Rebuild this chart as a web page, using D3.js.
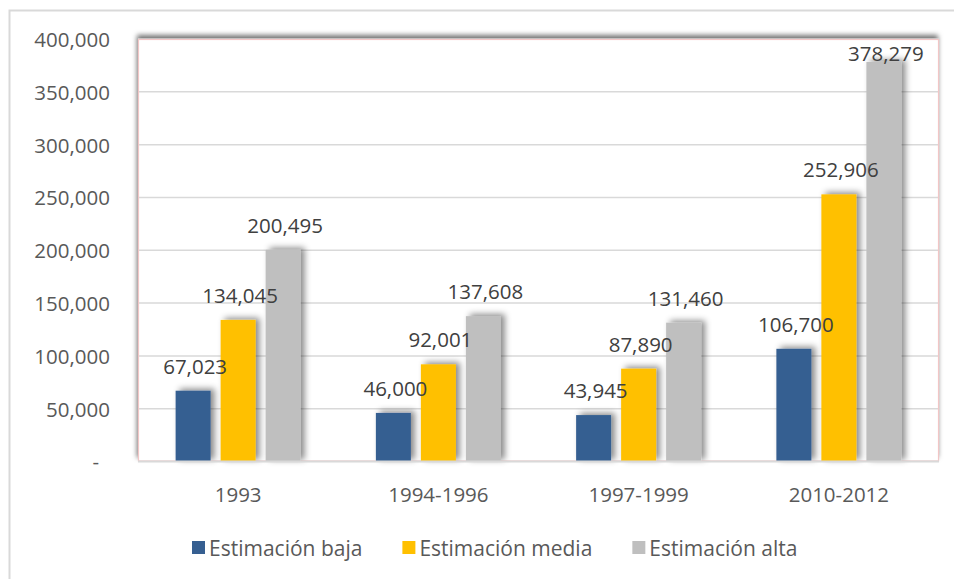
<!DOCTYPE html>
<html>
<head>
<meta charset="utf-8">
<script src="https://cdn.jsdelivr.net/npm/d3@7"></script>
<style>
  html, body { margin: 0; padding: 0; background: #fff; }
  svg { display: block; font-family: "Open Sans", sans-serif; }
</style>
</head>
<body>
<svg id="chart" width="954" height="579"></svg>
<script>
const categories = ["1993", "1994-1996", "1997-1999", "2010-2012"];
const seriesNames = ["Estimación baja", "Estimación media", "Estimación alta"];
const seriesColors = ["#365f91", "#ffc000", "#bfbfbf"];
const estimacionBaja = [67023, 46000, 43945, 106700];
const estimacionMedia = [134045, 92001, 87890, 252906];
const estimacionAlta = [200495, 137608, 131460, 378279];
const yTicks = [0, 50000, 100000, 150000, 200000, 250000, 300000, 350000, 400000];

const seriesValues = [estimacionBaja, estimacionMedia, estimacionAlta];

const svg = d3.select("#chart");
const W = 954, H = 579;
const plot = { left: 138, right: 939, top: 39, bottom: 461.5 };

const defs = svg.append("defs");
const fBar = defs.append("filter").attr("id", "barShadow")
  .attr("x", "-50%").attr("y", "-20%").attr("width", "200%").attr("height", "140%");
fBar.append("feDropShadow").attr("dx", 4).attr("dy", -2).attr("stdDeviation", 3)
  .attr("flood-color", "#000").attr("flood-opacity", 0.45);
const fPlot = defs.append("filter").attr("id", "plotShadow")
  .attr("x", "-5%").attr("y", "-5%").attr("width", "110%").attr("height", "110%");
fPlot.append("feDropShadow").attr("dx", -1).attr("dy", -4).attr("stdDeviation", 2.5)
  .attr("flood-color", "#000").attr("flood-opacity", 0.55);

// outer chart border (left and top visible)
svg.append("path")
  .attr("d", `M9.5,${H} L9.5,10.5 L${W},10.5`)
  .attr("fill", "none").attr("stroke", "#d9d9d9").attr("stroke-width", 2);

// plot area
svg.append("rect")
  .attr("x", plot.left).attr("y", plot.top)
  .attr("width", plot.right - plot.left).attr("height", plot.bottom - plot.top)
  .attr("fill", "#fff").attr("filter", "url(#plotShadow)");

const x0 = d3.scaleBand().domain(categories).range([plot.left, plot.right]).padding(0);
const x1 = d3.scaleBand().domain(seriesNames).range([-62.5, 62.5]).paddingInner(10 / 45).paddingOuter(0);
const y = d3.scaleLinear().domain([0, 400000]).range([plot.bottom, plot.top]);

// gridlines
svg.append("g").selectAll("line").data(yTicks.filter(t => t > 0)).join("line")
  .attr("x1", plot.left).attr("x2", plot.right)
  .attr("y1", d => y(d)).attr("y2", d => y(d))
  .attr("stroke", "#d9d9d9").attr("stroke-width", 1.5);

// plot border (light red)
svg.append("rect")
  .attr("x", plot.left + 0.5).attr("y", plot.top + 0.5)
  .attr("width", plot.right - plot.left - 1).attr("height", plot.bottom - plot.top - 1)
  .attr("fill", "none").attr("stroke", "#f2c6c6").attr("stroke-width", 1.2);

// y axis labels
const fmt = d3.format(",");
const yAxis = d3.axisLeft(y).tickValues(yTicks).tickSize(0).tickPadding(0)
  .tickFormat(d => d === 0 ? "-" : fmt(d));
const gy = svg.append("g").attr("transform", `translate(110,0)`).call(yAxis);
gy.select(".domain").remove();
gy.selectAll("text")
  .attr("font-size", 20.5).attr("fill", "#595959")
  .attr("font-family", "'Open Sans', sans-serif")
  .attr("dy", "0.36em")
  .attr("dx", d => d === 0 ? -11 : 0);

// bars
const groups = svg.append("g").selectAll("g").data(categories).join("g")
  .attr("transform", d => `translate(${x0(d) + x0.bandwidth() / 2},0)`);

const barData = (c, ci) => seriesNames.map((s, si) => ({ s, si, v: seriesValues[si][ci] }));

groups.each(function (c, ci) {
  const g = d3.select(this);
  const data = barData(c, ci);
  g.selectAll("rect").data(data).join("rect")
    .attr("x", d => x1(d.s)).attr("width", x1.bandwidth())
    .attr("y", d => y(d.v)).attr("height", d => plot.bottom - y(d.v))
    .attr("fill", d => seriesColors[d.si])
    .attr("filter", "url(#barShadow)");
});

// x axis baseline
svg.append("line")
  .attr("x1", plot.left).attr("x2", plot.right)
  .attr("y1", plot.bottom).attr("y2", plot.bottom)
  .attr("stroke", "#d9d9d9").attr("stroke-width", 2);

// data labels
groups.each(function (c, ci) {
  const g = d3.select(this);
  const data = barData(c, ci);
  g.selectAll("text.lbl").data(data).join("text").attr("class", "lbl")
    .attr("x", d => x1(d.s) + x1.bandwidth() / 2 + 2)
    .attr("y", d => Math.max(y(d.v) - 17, 61))
    .attr("text-anchor", "middle")
    .attr("font-size", 20.5).attr("fill", "#404040")
    .text(d => fmt(d.v));
});

// x axis labels
const xAxis = d3.axisBottom(x0).tickSize(0).tickPadding(0);
const gx = svg.append("g").attr("transform", `translate(0,0)`).call(xAxis);
gx.select(".domain").remove();
gx.selectAll("text")
  .attr("y", 502).attr("dy", 0)
  .attr("font-size", 20.5).attr("fill", "#595959")
  .attr("font-family", "'Open Sans', sans-serif");

// legend
const legend = svg.append("g");
let lx = 192;
seriesNames.forEach((s, i) => {
  legend.append("rect").attr("x", lx).attr("y", 541).attr("width", 13).attr("height", 13)
    .attr("fill", seriesColors[i]);
  const t = legend.append("text").attr("x", lx + 17).attr("y", 556)
    .attr("font-size", 21).attr("fill", "#595959").text(s);
  const w = t.node().getComputedTextLength();
  lx = lx + 17 + w + 40;
});
</script>
</body>
</html>
